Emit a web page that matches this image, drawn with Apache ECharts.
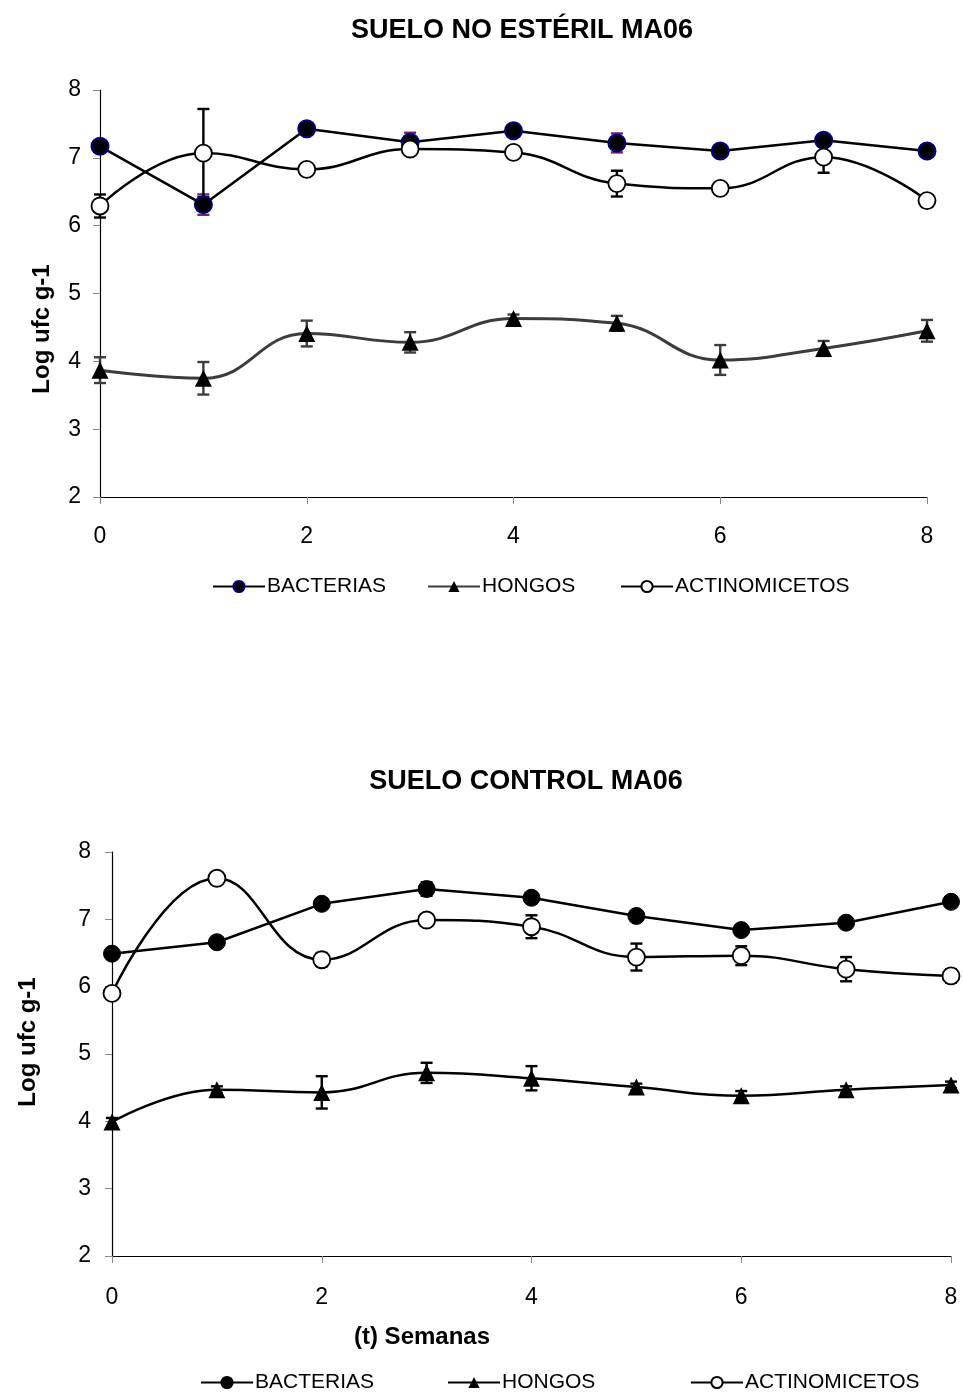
<!DOCTYPE html>
<html>
<head>
<meta charset="utf-8">
<title>SUELO MA06</title>
<script src="https://cdn.jsdelivr.net/npm/echarts@6/dist/echarts.min.js"></script>
<style>
  html, body { margin: 0; padding: 0; background: #fff; }
  #main { width: 963px; height: 1397px; }
</style>
</head>
<body>
<div id="main"></div>
<script>
// semanas
const weeks = [0, 1, 2, 3, 4, 5, 6, 7, 8];
const seriesNames = ['BACTERIAS', 'HONGOS', 'ACTINOMICETOS'];

// suelo no estéril
const bactNE = [7.17, 6.31, 7.43, 7.23, 7.40, 7.22, 7.10, 7.26, 7.10];
const bactNEErr = [0.05, 0.15, 0.05, 0.14, 0.05, 0.14, 0.04, 0.05, 0.04];
const hongNE = [3.87, 3.75, 4.41, 4.28, 4.63, 4.56, 4.02, 4.19, 4.45];
const hongNEErr = [0.19, 0.24, 0.19, 0.15, 0.06, 0.11, 0.22, 0.11, 0.16];
const actNE = [6.29, 7.07, 6.83, 7.13, 7.08, 6.62, 6.55, 7.01, 6.37];
const actNEErr = [0.17, 0.65, 0.05, 0.05, 0.05, 0.19, 0.06, 0.23, 0.04];

// suelo control
const bactC = [6.49, 6.66, 7.23, 7.45, 7.32, 7.05, 6.84, 6.95, 7.26];
const bactCErr = [0.04, 0.04, 0.05, 0.10, 0.05, 0.05, 0.05, 0.05, 0.04];
const hongC = [3.99, 4.47, 4.43, 4.72, 4.64, 4.51, 4.38, 4.47, 4.54];
const hongCErr = [0.06, 0.05, 0.24, 0.15, 0.18, 0.05, 0.07, 0.05, 0.05];
const actC = [5.90, 7.61, 6.40, 6.99, 6.89, 6.44, 6.46, 6.26, 6.16];
const actCErr = [0.06, 0.05, 0.10, 0.05, 0.17, 0.20, 0.14, 0.18, 0.10];

const FONT = 'Arial, "Liberation Sans", sans-serif';
const HONG_GRAY = '#3c3c3c';

let pairs = vals => weeks.map((w, i) => [w, vals[i]]);

// barras de error con caps
let errorSeries = function (vals, errs, idx, color) {
    return {
        type: 'custom',
        xAxisIndex: idx,
        yAxisIndex: idx,
        z: 1,
        silent: true,
        data: weeks.map((w, i) => [w, vals[i], errs[i]]),
        encode: { x: 0, y: 1 },
        renderItem: function (params, api) {
            let x = api.value(0), y = api.value(1), e = api.value(2);
            let hi = api.coord([x, y + e]);
            let lo = api.coord([x, y - e]);
            let st = { stroke: color, lineWidth: 2.4 };
            return {
                type: 'group',
                children: [
                    { type: 'line', shape: { x1: hi[0], y1: hi[1], x2: lo[0], y2: lo[1] }, style: st },
                    { type: 'line', shape: { x1: hi[0] - 6, y1: hi[1], x2: hi[0] + 6, y2: hi[1] }, style: st },
                    { type: 'line', shape: { x1: lo[0] - 6, y1: lo[1], x2: lo[0] + 6, y2: lo[1] }, style: st }
                ]
            };
        }
    };
};

let lineSeries = function (name, vals, idx, opts) {
    return Object.assign({
        name: name,
        type: 'line',
        xAxisIndex: idx,
        yAxisIndex: idx,
        z: 3,
        symbolSize: 17,
        data: pairs(vals)
    }, opts);
};

let makeGrid = (left, top, right, height) => ({ left: left, top: top, right: right, height: height });

let makeXAxis = (idx, margin) => ({
    type: 'value', gridIndex: idx, min: 0, max: 8, interval: 2,
    axisLine: { lineStyle: { color: '#000', width: 1.2 } },
    axisTick: { inside: false, length: 7, lineStyle: { color: '#888' } },
    axisLabel: { fontSize: 23, color: '#000', fontFamily: FONT, margin: margin },
    splitLine: { show: false }
});

let makeYAxis = (idx, margin) => ({
    type: 'value', gridIndex: idx, min: 2, max: 8, interval: 1,
    axisLine: { show: true, lineStyle: { color: '#000', width: 1.2 } },
    axisTick: { show: true, inside: false, length: 7, lineStyle: { color: '#888' } },
    axisLabel: { fontSize: 23, color: '#000', fontFamily: FONT, margin: margin },
    splitLine: { show: false }
});

// leyendas, un componente por item para fijar posiciones
let legendItems = function (lefts, top, bottomChart) {
    return seriesNames.map((n, i) => {
        let item = { name: n };
        if (bottomChart) {
            item.lineStyle = { color: '#000' };
            if (n === 'ACTINOMICETOS') item.itemStyle = { color: '#fff', borderColor: '#000' };
            else item.itemStyle = { color: '#000', borderColor: '#000' };
        }
        return {
            data: [item],
            left: lefts[i],
            top: top,
            itemWidth: 52,
            itemHeight: 14,
            padding: 0,
            selectedMode: false,
            textStyle: { fontSize: 21, color: '#000', fontFamily: FONT, padding: [0, 0, 0, -3] }
        };
    });
};

let series = [
    // suelo no estéril
    errorSeries(bactNE, bactNEErr, 0, '#7a1f6a'),
    errorSeries(hongNE, hongNEErr, 0, HONG_GRAY),
    errorSeries(actNE, actNEErr, 0, '#000'),
    lineSeries('BACTERIAS', bactNE, 0, {
        symbol: 'circle',
        itemStyle: { color: '#000', borderColor: '#000080', borderWidth: 2 },
        lineStyle: { color: '#000', width: 2.5 }
    }),
    lineSeries('HONGOS', hongNE, 0, {
        symbol: 'triangle', smooth: 0.45,
        itemStyle: { color: '#000', borderColor: '#000', borderWidth: 0 },
        lineStyle: { color: HONG_GRAY, width: 3 }
    }),
    lineSeries('ACTINOMICETOS', actNE, 0, {
        symbol: 'circle', smooth: 0.45,
        itemStyle: { color: '#fff', borderColor: '#000', borderWidth: 1.8 },
        lineStyle: { color: '#000', width: 2.5 }
    }),
    // suelo control
    errorSeries(bactC, bactCErr, 1, '#000'),
    errorSeries(hongC, hongCErr, 1, '#000'),
    errorSeries(actC, actCErr, 1, '#000'),
    lineSeries('BACTERIAS', bactC, 1, {
        symbol: 'circle',
        itemStyle: { color: '#000', borderColor: '#000', borderWidth: 1 },
        lineStyle: { color: '#000', width: 2.5 }
    }),
    lineSeries('HONGOS', hongC, 1, {
        symbol: 'triangle', smooth: 0.45,
        itemStyle: { color: '#000', borderColor: '#000', borderWidth: 0 },
        lineStyle: { color: '#000', width: 2.5 }
    }),
    lineSeries('ACTINOMICETOS', actC, 1, {
        symbol: 'circle', smooth: 0.45,
        itemStyle: { color: '#fff', borderColor: '#000', borderWidth: 1.8 },
        lineStyle: { color: '#000', width: 2.5 }
    })
];

let textEl = (text, x, y, size, rot) => ({
    type: 'text', x: x, y: y, rotation: rot || 0,
    style: {
        text: text, fontSize: size, fontWeight: 'bold', fontFamily: FONT,
        fill: '#000', textAlign: 'center', textVerticalAlign: 'middle'
    }
});

let myChart = echarts.init(document.getElementById('main'), null, { renderer: 'canvas' });

let option = {
    backgroundColor: '#fff',
    animation: false,
    grid: [makeGrid(100, 90, 36, 407), makeGrid(112, 852, 12, 404)],
    xAxis: [makeXAxis(0, 28), makeXAxis(1, 30)],
    yAxis: [makeYAxis(0, 19), makeYAxis(1, 21)],
    legend: legendItems([212, 427, 620], 576, false).concat(legendItems([200, 447, 690], 1372, true)),
    graphic: [
        textEl('SUELO NO ESTÉRIL MA06', 522, 31, 27),
        textEl('SUELO CONTROL MA06', 526, 782, 27),
        textEl('Log ufc g-1', 42, 329, 24, Math.PI / 2),
        textEl('Log ufc g-1', 28, 1042, 24, Math.PI / 2),
        textEl('(t) Semanas', 422, 1337, 24)
    ],
    series: series
};

myChart.setOption(option);
</script>
</body>
</html>
